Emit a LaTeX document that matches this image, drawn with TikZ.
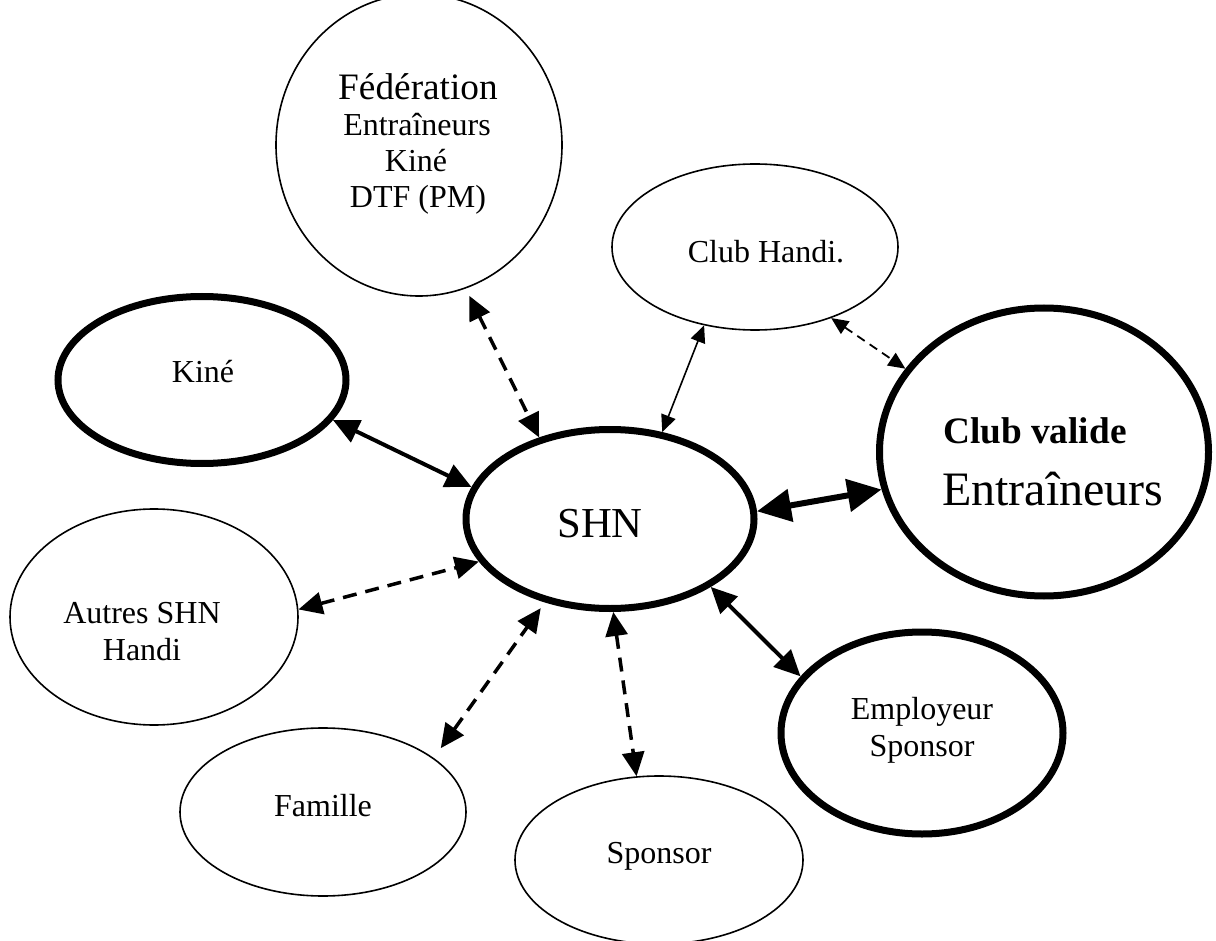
\documentclass[tikz,border=0pt]{standalone}
\usepackage{fontspec}
\setmainfont{Liberation Serif}
\usetikzlibrary{shapes.geometric,arrows.meta}
\newcommand\szA{\fontsize{32}{36}\selectfont}
\newcommand\szB{\fontsize{37.3}{42}\selectfont}
\newcommand\szC{\fontsize{42.7}{48}\selectfont}
\newcommand\szD{\fontsize{48}{54}\selectfont}
\begin{document}
\begin{tikzpicture}[x=1pt,y=-1pt,
  ell/.style={ellipse,draw,inner sep=0pt},
  thinell/.style={ell,line width=1.6pt},
  thickell/.style={ell,line width=7pt},
  lbl/.style={inner sep=0pt,anchor=base,font=\szA},
  arr/.style={line width=4pt,arrows={Triangle[length=26pt,width=24pt]-Triangle[length=26pt,width=24pt]}},
  bigarr/.style={line width=6pt,arrows={Triangle[length=34pt,width=32pt]-Triangle[length=34pt,width=32pt]}},
  dasharr/.style={line width=3.5pt,dash pattern=on 14pt off 9pt,arrows={Triangle[length=24pt,width=22pt]-Triangle[length=24pt,width=22pt]}},
  thinarr/.style={line width=1.6pt,arrows={Triangle[length=17pt,width=15pt]-Triangle[length=17pt,width=15pt]}},
  thindash/.style={line width=1.8pt,dash pattern=on 9pt off 6pt,arrows={Triangle[length=17pt,width=15pt]-Triangle[length=17pt,width=15pt]}}]
\useasboundingbox (0,0) rectangle (1216,941);
\clip (0,0) rectangle (1216,941);
\fill[white] (0,0) rectangle (1216,941);

% ellipses
\node[thinell,minimum width=286pt,minimum height=302pt] (fed) at (419,145) {};
\node[thinell,minimum width=286pt,minimum height=166pt] (ch) at (755,247) {};
\node[thickell,minimum width=329pt,minimum height=288pt] (cv) at (1044,452) {};
\node[thickell,minimum width=288pt,minimum height=167pt] (kine) at (202,380) {};
\node[thickell,minimum width=288pt,minimum height=179pt] (shn) at (610,519) {};
\node[thinell,minimum width=288pt,minimum height=216pt] (autres) at (154,617) {};
\node[thinell,minimum width=286pt,minimum height=168pt] (famille) at (323,812) {};
\node[thinell,minimum width=288pt,minimum height=168pt] (sponsor) at (659,860) {};
\node[thickell,minimum width=282pt,minimum height=202pt] (emp) at (922,733) {};

% texts
\node[lbl,font=\szB] (fedA) at (418,100) {Fédération};
\node[lbl] (fedB) at (417,136) {Entraîneurs};
\node[lbl] (fedC) at (416,172) {Kiné};
\node[lbl] (fedD) at (418,208) {DTF (PM)};
\node[lbl] (chT) at (766,263) {Club Handi.};
\node[lbl] (kineT) at (203,383) {Kiné};
\node[lbl,font=\szC] (shnT) at (600,537) {SHN};
\node[lbl,anchor=base west,font=\szB\bfseries] (cvA) at (943,443) {Club valide};
\node[lbl,anchor=base west,font=\szD] (cvB) at (942,505) {Entraîneurs};
\node[lbl] (autA) at (142,623) {Autres SHN};
\node[lbl] (autB) at (142,660) {Handi};
\node[lbl] (famT) at (323,816) {Famille};
\node[lbl] (spT) at (659,863) {Sponsor};
\node[lbl] (empA) at (922,719) {Employeur};
\node[lbl] (empB) at (922,756) {Sponsor};

% connectors
\draw[dasharr,shorten <=8pt] (fed.-72) -- (shn.131.6);
\draw[thinarr] (ch.-123.7) -- (shn.59.2);
\draw[thindash] (ch.-43.4) -- (cv.149.6);
\draw[bigarr] (shn.3.5) -- (cv.-167.9);
\draw[arr] (kine.-17) -- (shn.167.4);
\draw[dasharr] (autres.3.9) -- (shn.-162.8);
\draw[dasharr,shorten <=12pt,shorten >=7pt] (famille.26.6) -- (shn.-128.6);
\draw[dasharr] (shn.-88.2) -- (sponsor.105.9);
\draw[arr] (shn.-34.2) -- (emp.155);
\end{tikzpicture}
\end{document}
